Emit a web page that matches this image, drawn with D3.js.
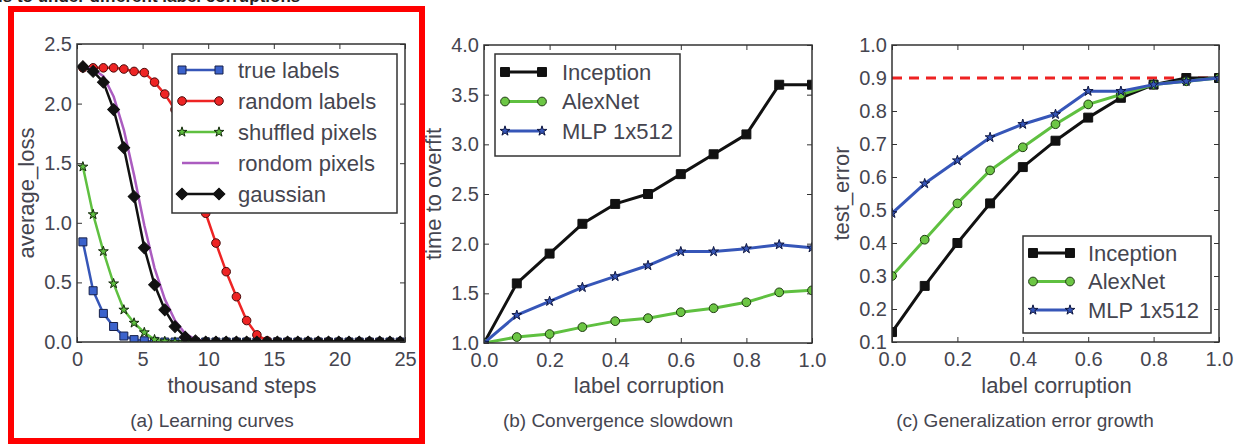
<!DOCTYPE html>
<html lang="en">
<head>
<meta charset="utf-8">
<title>Fitting random labels and random pixels</title>
<script src="https://cdn.jsdelivr.net/npm/d3@7"></script>
<style>
  body { margin: 0; background: #fff; }
  text { font-family: "Liberation Sans", Arial, sans-serif; fill: #45454f; }
  .axis path { display: none; }
  .axis line { stroke: #333; stroke-width: 1; }
  .axis text { font-size: 20px; }
</style>
</head>
<body>
<script>
// ---- panel (a): training loss vs thousand steps ----
var steps = [0.45, 1.23, 2.01, 2.79, 3.57, 4.35, 5.13, 5.91, 6.69, 7.47, 8.25, 9.03,
  9.81, 10.59, 11.37, 12.15, 12.93, 13.71, 14.49, 15.27, 16.05, 16.83, 17.61, 18.39,
  19.17, 19.95, 20.73, 21.51, 22.29, 23.07, 23.85, 24.63];
var trueLabels = [0.84, 0.43, 0.24, 0.13, 0.05, 0.02, 0.01, 0.005, 0, 0, 0, 0,
  0, 0, 0, 0, 0, 0, 0, 0, 0, 0, 0, 0, 0, 0, 0, 0, 0, 0, 0, 0];
var randomLabels = [2.30, 2.30, 2.30, 2.30, 2.29, 2.27, 2.26, 2.18, 2.08, 1.95, 1.74, 1.43,
  1.08, 0.83, 0.59, 0.38, 0.18, 0.06, 0.01, 0, 0, 0, 0, 0, 0, 0, 0, 0, 0, 0, 0, 0];
var shuffledPixels = [1.47, 1.07, 0.76, 0.49, 0.27, 0.16, 0.08, 0.02, 0.005, 0, 0, 0,
  0, 0, 0, 0, 0, 0, 0, 0, 0, 0, 0, 0, 0, 0, 0, 0, 0, 0, 0, 0];
var randomPixels = [2.31, 2.29, 2.23, 2.06, 1.78, 1.40, 0.98, 0.62, 0.36, 0.18, 0.07, 0.02,
  0.005, 0, 0, 0, 0, 0, 0, 0, 0, 0, 0, 0, 0, 0, 0, 0, 0, 0, 0, 0];
var gaussian = [2.31, 2.27, 2.18, 1.95, 1.63, 1.22, 0.79, 0.48, 0.27, 0.13, 0.04, 0.01,
  0, 0, 0, 0, 0, 0, 0, 0, 0, 0, 0, 0, 0, 0, 0, 0, 0, 0, 0, 0];

// ---- panels (b) and (c): label corruption ----
var corruption = [0, 0.1, 0.2, 0.3, 0.4, 0.5, 0.6, 0.7, 0.8, 0.9, 1.0];
var timeInception = [1.0, 1.6, 1.9, 2.2, 2.4, 2.5, 2.7, 2.9, 3.1, 3.6, 3.6];
var timeAlexNet = [1.0, 1.06, 1.09, 1.16, 1.22, 1.25, 1.31, 1.35, 1.41, 1.51, 1.53];
var timeMLP = [1.0, 1.28, 1.42, 1.56, 1.67, 1.78, 1.92, 1.92, 1.95, 1.99, 1.96];
var errInception = [0.13, 0.27, 0.40, 0.52, 0.63, 0.71, 0.78, 0.84, 0.88, 0.90, 0.90];
var errAlexNet = [0.30, 0.41, 0.52, 0.62, 0.69, 0.76, 0.82, 0.85, 0.88, 0.89, 0.90];
var errMLP = [0.49, 0.58, 0.65, 0.72, 0.76, 0.79, 0.86, 0.86, 0.88, 0.89, 0.90];
var chanceError = 0.9;

var ticksA = { x: [0, 5, 10, 15, 20, 25], y: [0, 0.5, 1.0, 1.5, 2.0, 2.5] };
var ticksB = { x: [0, 0.2, 0.4, 0.6, 0.8, 1.0], y: [1.0, 1.5, 2.0, 2.5, 3.0, 3.5, 4.0] };
var ticksC = { x: [0, 0.2, 0.4, 0.6, 0.8, 1.0], y: [0.1, 0.2, 0.3, 0.4, 0.5, 0.6, 0.7, 0.8, 0.9, 1.0] };

var svg = d3.select("body").append("svg")
  .attr("width", 1235)
  .attr("height", 444);

// cut-off caption line above the figure
svg.append("text")
  .attr("x", -2).attr("y", 2)
  .style("font-weight", "bold").style("font-size", "17px").style("fill", "#222")
  .text("is to under different label corruptions");

// red highlight around panel (a)
svg.append("rect")
  .attr("x", 11).attr("y", 9).attr("width", 411).attr("height", 432)
  .attr("fill", "none").attr("stroke", "#f00").attr("stroke-width", 6);

function drawMarker(sel, s, cx, cy) {
  if (!s.symbol) return;
  sel.append("path")
    .attr("d", d3.symbol().type(s.symbol).size(s.size)())
    .attr("transform", "translate(" + cx + "," + cy + ")" + (s.rotate ? " rotate(45)" : ""))
    .attr("fill", s.fill)
    .attr("stroke", s.edge)
    .attr("stroke-width", 1);
}

function panel(p) {
  var g = svg.append("g");
  var x = d3.scaleLinear().domain(p.xDomain).range([p.left, p.right]);
  var y = d3.scaleLinear().domain(p.yDomain).range([p.bottom, p.top]);

  svg.append("clipPath").attr("id", p.id)
    .append("rect")
    .attr("x", p.left).attr("y", p.top)
    .attr("width", p.right - p.left).attr("height", p.bottom - p.top);

  // ticks on all four sides, pointing in
  g.append("g").attr("class", "axis")
    .attr("transform", "translate(0," + p.bottom + ")")
    .call(d3.axisBottom(x).tickValues(p.ticks.x).tickFormat(d3.format(p.xFmt)).tickSize(-5).tickPadding(10));
  g.append("g").attr("class", "axis")
    .attr("transform", "translate(0," + p.top + ")")
    .call(d3.axisTop(x).tickValues(p.ticks.x).tickFormat("").tickSize(-5));
  g.append("g").attr("class", "axis")
    .attr("transform", "translate(" + p.left + ",0)")
    .call(d3.axisLeft(y).tickValues(p.ticks.y).tickFormat(d3.format(".1f")).tickSize(-5).tickPadding(5));
  g.append("g").attr("class", "axis")
    .attr("transform", "translate(" + p.right + ",0)")
    .call(d3.axisRight(y).tickValues(p.ticks.y).tickFormat("").tickSize(-5));

  var plot = g.append("g").attr("clip-path", "url(#" + p.id + ")");

  if (p.hline !== undefined) {
    plot.append("line")
      .attr("x1", p.left).attr("x2", p.right)
      .attr("y1", y(p.hline)).attr("y2", y(p.hline))
      .attr("stroke", "#ee2222").attr("stroke-width", 3)
      .attr("stroke-dasharray", "10,7");
  }

  var line = d3.line()
    .x(function(d) { return x(d[0]); })
    .y(function(d) { return y(d[1]); });

  p.series.forEach(function(s) {
    var pts = p.xs.map(function(v, i) { return [v, s.values[i]]; });
    plot.append("path")
      .attr("d", line(pts))
      .attr("fill", "none")
      .attr("stroke", s.color)
      .attr("stroke-width", p.lineWidth)
      .attr("stroke-linejoin", "round");
    pts.forEach(function(d) { drawMarker(plot, s, x(d[0]), y(d[1])); });
  });

  g.append("rect")
    .attr("x", p.left).attr("y", p.top)
    .attr("width", p.right - p.left).attr("height", p.bottom - p.top)
    .attr("fill", "none").attr("stroke", "#333").attr("stroke-width", 1.5);

  // legend
  var L = p.legend;
  g.append("rect")
    .attr("x", L.x).attr("y", L.y).attr("width", L.w).attr("height", L.h)
    .attr("fill", "#fff").attr("stroke", "#333").attr("stroke-width", 1.5);
  p.series.forEach(function(s, i) {
    var ry = L.y + L.first + i * L.gap;
    g.append("line")
      .attr("x1", L.x + 10).attr("x2", L.x + 47)
      .attr("y1", ry).attr("y2", ry)
      .attr("stroke", s.color).attr("stroke-width", p.lineWidth);
    drawMarker(g, s, L.x + 10, ry);
    drawMarker(g, s, L.x + 47, ry);
    g.append("text")
      .attr("x", L.x + L.textX).attr("y", ry).attr("dy", "0.36em")
      .style("font-size", "22px")
      .text(s.name);
  });

  g.append("text")
    .attr("transform", "translate(" + (p.left - 43) + "," + ((p.top + p.bottom) / 2) + ") rotate(-90)")
    .attr("text-anchor", "middle")
    .style("font-size", "22px")
    .text(p.yLabel);
  g.append("text")
    .attr("x", (p.left + p.right) / 2 + 1).attr("y", 393)
    .attr("text-anchor", "middle")
    .style("font-size", "22px")
    .text(p.xLabel);
  g.append("text")
    .attr("x", p.captionX).attr("y", 427)
    .attr("text-anchor", "middle")
    .style("font-size", "19px")
    .text(p.caption);
}

panel({
  id: "clipA", left: 77, right: 405, top: 44, bottom: 342,
  xDomain: [0, 25], yDomain: [0, 2.5], ticks: ticksA, xFmt: "d",
  xs: steps, lineWidth: 2.5,
  series: [
    { name: "true labels", values: trueLabels, color: "#3656b8", symbol: d3.symbolSquare, size: 64, fill: "#3b62cc", edge: "#16204a" },
    { name: "random labels", values: randomLabels, color: "#ee2424", symbol: d3.symbolCircle, size: 58, fill: "#ee2424", edge: "#4a0c0c" },
    { name: "shuffled pixels", values: shuffledPixels, color: "#5fc040", symbol: d3.symbolStar, size: 30, fill: "#5fc040", edge: "#142a0c" },
    { name: "rondom pixels", values: randomPixels, color: "#ab5cc0" },
    { name: "gaussian", values: gaussian, color: "#111", symbol: d3.symbolSquare, size: 70, fill: "#111", edge: "#111", rotate: true }
  ],
  legend: { x: 172, y: 54, w: 225, h: 159, first: 16, gap: 31, textX: 66 },
  yLabel: "average_loss", xLabel: "thousand steps",
  caption: "(a) Learning curves", captionX: 212
});

panel({
  id: "clipB", left: 484, right: 812, top: 45, bottom: 343,
  xDomain: [0, 1], yDomain: [1, 4], ticks: ticksB, xFmt: ".1f",
  xs: corruption, lineWidth: 3,
  series: [
    { name: "Inception", values: timeInception, color: "#111", symbol: d3.symbolSquare, size: 80, fill: "#111", edge: "#111" },
    { name: "AlexNet", values: timeAlexNet, color: "#5fc040", symbol: d3.symbolCircle, size: 60, fill: "#6cc644", edge: "#1d3a10" },
    { name: "MLP 1x512", values: timeMLP, color: "#3656b8", symbol: d3.symbolStar, size: 30, fill: "#3656b8", edge: "#0e1640" }
  ],
  legend: { x: 495, y: 54, w: 185, h: 102, first: 18, gap: 29.5, textX: 67 },
  yLabel: "time to overfit", xLabel: "label corruption",
  caption: "(b) Convergence slowdown", captionX: 618
});

panel({
  id: "clipC", left: 892, right: 1219, top: 45, bottom: 342,
  xDomain: [0, 1], yDomain: [0.1, 1.0], ticks: ticksC, xFmt: ".1f",
  xs: corruption, lineWidth: 3, hline: chanceError,
  series: [
    { name: "Inception", values: errInception, color: "#111", symbol: d3.symbolSquare, size: 80, fill: "#111", edge: "#111" },
    { name: "AlexNet", values: errAlexNet, color: "#5fc040", symbol: d3.symbolCircle, size: 60, fill: "#6cc644", edge: "#1d3a10" },
    { name: "MLP 1x512", values: errMLP, color: "#3656b8", symbol: d3.symbolStar, size: 30, fill: "#3656b8", edge: "#0e1640" }
  ],
  legend: { x: 1023, y: 236, w: 188, h: 97, first: 17, gap: 28.5, textX: 65 },
  yLabel: "test_error", xLabel: "label corruption",
  caption: "(c) Generalization error growth", captionX: 1025
});
</script>
</body>
</html>
